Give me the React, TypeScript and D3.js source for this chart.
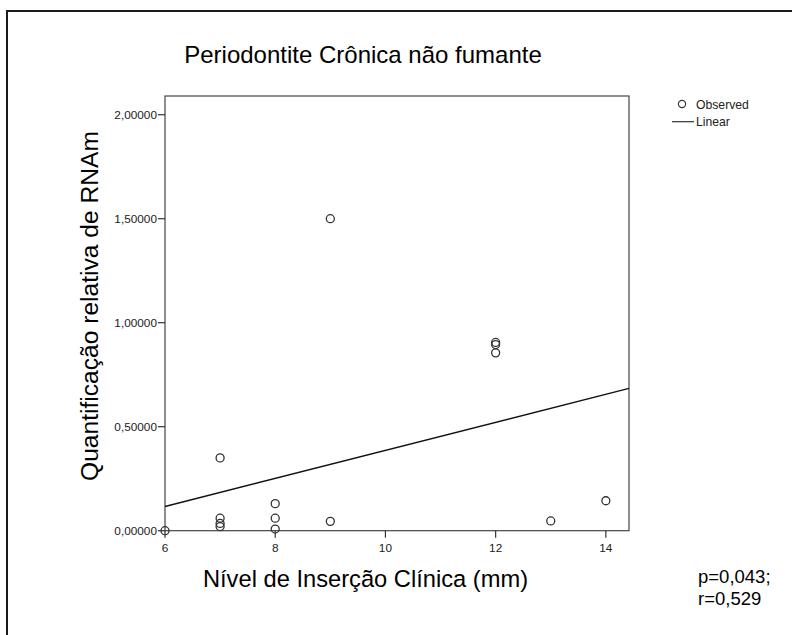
import React from "react";
import * as d3 from "d3";

const titleText = "Periodontite Crônica não fumante";
const xLabel = "Nível de Inserção Clínica (mm)";
const yLabel = "Quantificação relativa de RNAm";
const statLines = ["p=0,043;", "r=0,529"];
const legendLabels = ["Observed", "Linear"];

const xValues = [6, 7, 7, 7, 7, 8, 8, 8, 9, 9, 12, 12, 12, 13, 14];
const yValues = [0, 0.35, 0.06, 0.035, 0.02, 0.13, 0.06, 0.008, 0.045, 1.5, 0.905, 0.895, 0.855, 0.047, 0.144];
const xTicks = [6, 8, 10, 12, 14];
const yTicks = [0, 0.5, 1, 1.5, 2];

const FONT = 'Arial, "Liberation Sans", sans-serif';

export default function App() {
  const W = 792, H = 635;
  const left = 165, right = 629, top = 96, bottom = 530.7;
  const x = d3.scaleLinear().domain([6, 14.42]).range([left, right]);
  const y = d3.scaleLinear().domain([0, 2.09]).range([bottom, top]);

  const n = xValues.length;
  const mx = d3.mean(xValues) as number;
  const my = d3.mean(yValues) as number;
  let sxy = 0, sxx = 0;
  for (let i = 0; i < n; i++) {
    sxy += (xValues[i] - mx) * (yValues[i] - my);
    sxx += (xValues[i] - mx) ** 2;
  }
  const slope = sxy / sxx;
  const intercept = my - slope * mx;
  const [x0, x1] = x.domain();
  const line = d3.line<number>().x((d) => x(d)).y((d) => y(intercept + slope * d));
  const fmt = (v: number) => v.toFixed(5).replace(".", ",");

  return (
    <svg width={W} height={H} style={{ position: "absolute", left: 0, top: 0, background: "#fff" }}>
      <rect x={7} y={11} width={W + 20} height={H + 20} fill="#fff" stroke="#1a1a1a" strokeWidth={2} />
      <text x={363} y={63} fontFamily={FONT} fontSize={24} textAnchor="middle" fill="#000">{titleText}</text>

      <rect x={left} y={top} width={right - left} height={bottom - top} fill="#fff" stroke="#444" strokeWidth={1.2} />

      {yTicks.map((t) => (
        <g key={"y" + t}>
          <line x1={left - 7} x2={left} y1={y(t)} y2={y(t)} stroke="#333" strokeWidth={1.2} />
          <text x={left - 8} y={y(t) + 4} fontFamily={FONT} fontSize={11.8} textAnchor="end" fill="#222">{fmt(t)}</text>
        </g>
      ))}
      {xTicks.map((t) => (
        <g key={"x" + t}>
          <line x1={x(t)} x2={x(t)} y1={bottom} y2={bottom + 7} stroke="#333" strokeWidth={1.2} />
          <text x={x(t)} y={bottom + 21} fontFamily={FONT} fontSize={11.8} textAnchor="middle" fill="#222">{t}</text>
        </g>
      ))}

      <path d={line([x0, x1]) as string} fill="none" stroke="#111" strokeWidth={1.5} />

      {xValues.map((xv, i) => (
        <circle key={i} cx={x(xv)} cy={y(yValues[i])} r={4} fill="none" stroke="#333" strokeWidth={1.3} />
      ))}

      <text x={365.5} y={587} fontFamily={FONT} fontSize={23.7} textAnchor="middle" fill="#000">{xLabel}</text>
      <text transform={`translate(98,306) rotate(-90)`} fontFamily={FONT} fontSize={24.6} textAnchor="middle" fill="#000">{yLabel}</text>

      <circle cx={682} cy={104} r={3.6} fill="none" stroke="#333" strokeWidth={1.2} />
      <text x={696} y={108.5} fontFamily={FONT} fontSize={12.2} fill="#222">{legendLabels[0]}</text>
      <line x1={672} x2={694} y1={121.7} y2={121.7} stroke="#333" strokeWidth={1.2} />
      <text x={696} y={126} fontFamily={FONT} fontSize={12.2} fill="#222">{legendLabels[1]}</text>

      {statLines.map((s, i) => (
        <text key={s} x={698} y={582.5 + i * 22} fontFamily={FONT} fontSize={18.5} fill="#000">{s}</text>
      ))}
    </svg>
  );
}
